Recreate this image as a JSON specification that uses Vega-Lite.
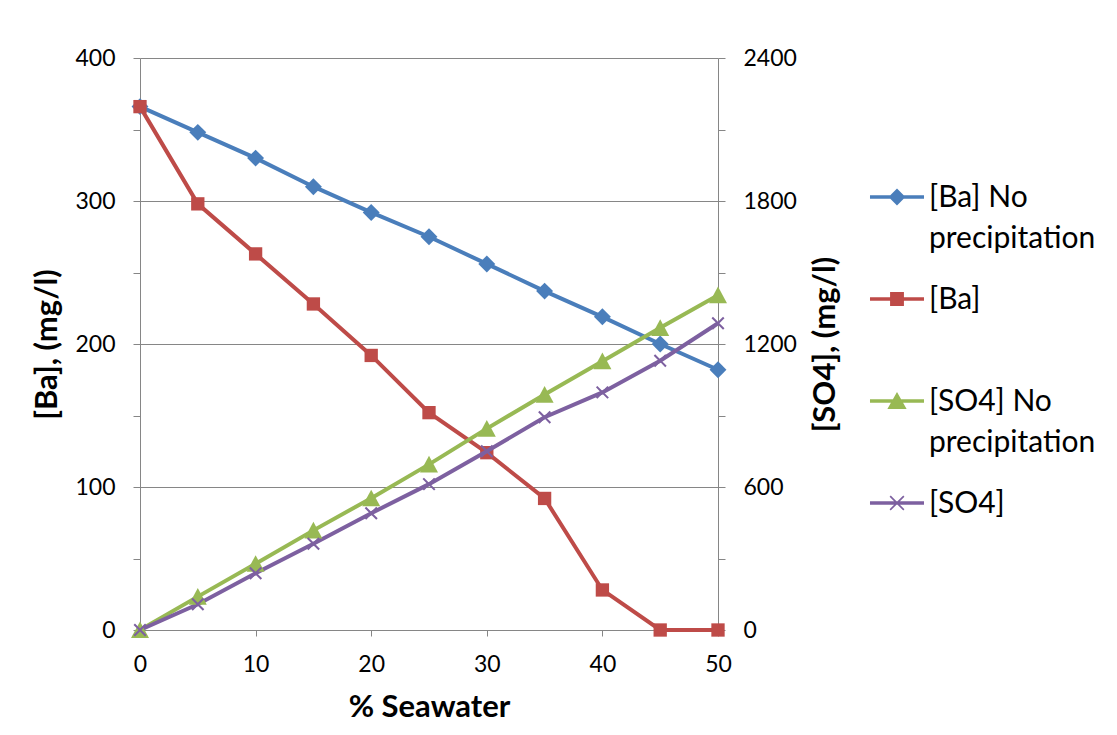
{
  "$schema": "https://vega.github.io/schema/vega-lite/v6.json",
  "autosize": {"type": "none"},
  "width": 578,
  "height": 572,
  "padding": {"left": 140, "top": 58, "right": 399, "bottom": 105},
  "background": "white",
  "config": {
    "font": "Lato",
    "view": {"stroke": null},
    "axis": {
      "labelFont": "Lato",
      "labelFontSize": 23,
      "labelColor": "#000000",
      "labelFlush": false,
      "titleFont": "Lato",
      "titleFontSize": 31,
      "titleFontWeight": "bold",
      "titleColor": "#000000",
      "domainColor": "#868686",
      "tickColor": "#868686",
      "gridColor": "#868686",
      "domainWidth": 1,
      "tickWidth": 1,
      "gridWidth": 1,
      "tickSize": 7
    }
  },
  "data": {
    "values": [
      {"x": 0, "series": "[Ba] No precipitation", "value": 366},
      {"x": 5, "series": "[Ba] No precipitation", "value": 348},
      {"x": 10, "series": "[Ba] No precipitation", "value": 330},
      {"x": 15, "series": "[Ba] No precipitation", "value": 310},
      {"x": 20, "series": "[Ba] No precipitation", "value": 292},
      {"x": 25, "series": "[Ba] No precipitation", "value": 275},
      {"x": 30, "series": "[Ba] No precipitation", "value": 256},
      {"x": 35, "series": "[Ba] No precipitation", "value": 237},
      {"x": 40, "series": "[Ba] No precipitation", "value": 219},
      {"x": 45, "series": "[Ba] No precipitation", "value": 200},
      {"x": 50, "series": "[Ba] No precipitation", "value": 182},
      {"x": 0, "series": "[Ba]", "value": 366},
      {"x": 5, "series": "[Ba]", "value": 298},
      {"x": 10, "series": "[Ba]", "value": 263},
      {"x": 15, "series": "[Ba]", "value": 228},
      {"x": 20, "series": "[Ba]", "value": 192},
      {"x": 25, "series": "[Ba]", "value": 152},
      {"x": 30, "series": "[Ba]", "value": 124},
      {"x": 35, "series": "[Ba]", "value": 92},
      {"x": 40, "series": "[Ba]", "value": 28},
      {"x": 45, "series": "[Ba]", "value": 0},
      {"x": 50, "series": "[Ba]", "value": 0},
      {"x": 0, "series": "[SO4] No precipitation", "value": 0},
      {"x": 5, "series": "[SO4] No precipitation", "value": 140},
      {"x": 10, "series": "[SO4] No precipitation", "value": 278},
      {"x": 15, "series": "[SO4] No precipitation", "value": 418},
      {"x": 20, "series": "[SO4] No precipitation", "value": 553},
      {"x": 25, "series": "[SO4] No precipitation", "value": 695},
      {"x": 30, "series": "[SO4] No precipitation", "value": 845},
      {"x": 35, "series": "[SO4] No precipitation", "value": 988},
      {"x": 40, "series": "[SO4] No precipitation", "value": 1128},
      {"x": 45, "series": "[SO4] No precipitation", "value": 1268},
      {"x": 50, "series": "[SO4] No precipitation", "value": 1405},
      {"x": 0, "series": "[SO4]", "value": 0},
      {"x": 5, "series": "[SO4]", "value": 108},
      {"x": 10, "series": "[SO4]", "value": 238},
      {"x": 15, "series": "[SO4]", "value": 362},
      {"x": 20, "series": "[SO4]", "value": 490},
      {"x": 25, "series": "[SO4]", "value": 612},
      {"x": 30, "series": "[SO4]", "value": 750},
      {"x": 35, "series": "[SO4]", "value": 893},
      {"x": 40, "series": "[SO4]", "value": 997},
      {"x": 45, "series": "[SO4]", "value": 1130},
      {"x": 50, "series": "[SO4]", "value": 1287}
    ]
  },
  "encoding": {
    "x": {
      "field": "x",
      "type": "quantitative",
      "scale": {"domain": [0, 50], "nice": false, "zero": false},
      "axis": {
        "title": "% Seawater",
        "values": [0, 10, 20, 30, 40, 50],
        "grid": false,
        "tickSize": 6,
        "labelPadding": 17,
        "titlePadding": 16
      }
    },
    "color": {
      "field": "series",
      "type": "nominal",
      "scale": {
        "domain": ["[Ba] No precipitation", "[Ba]", "[SO4] No precipitation", "[SO4]"],
        "range": ["#4A7EBB", "#BE4B48", "#98B954", "#7D60A0"]
      },
      "legend": {
        "orient": "none",
        "legendX": 740,
        "legendY": 122,
        "title": null,
        "padding": 0,
        "labelFont": "Lato",
        "labelFontSize": 30,
        "labelColor": "#000000",
        "labelLimit": 400,
        "labelOffset": 15,
        "labelBaseline": "alphabetic",
        "symbolSize": 1140,
        "rowPadding": 28,
        "labelExpr": "datum.label === '[Ba] No precipitation' ? ['[Ba] No', 'precipitation'] : datum.label === '[SO4] No precipitation' ? ['[SO4] No', 'precipitation'] : [datum.label, ' ']",
        "encoding": {
          "labels": {
            "dy": {"value": 10},
            "lineHeight": {"value": 41}
          },
          "symbols": {
            "shape": {"value": {"expr": "datum.value === '[Ba] No precipitation' ? 'M-1.6,-0.11H1.6V0.11H-1.6ZM0,-0.5L0.5,0L0,0.5L-0.5,0Z' : datum.value === '[Ba]' ? 'M-1.6,-0.11H1.6V0.11H-1.6ZM-0.41,-0.41H0.41V0.41H-0.41Z' : datum.value === '[SO4] No precipitation' ? 'M-1.6,-0.11H1.6V0.11H-1.6ZM0,-0.53L0.57,0.47H-0.57Z' : 'M-1.6,-0.11H1.6V0.11H-1.6ZM-0.44,-0.37L-0.37,-0.44L0,-0.07L0.37,-0.44L0.44,-0.37L0.07,0L0.44,0.37L0.37,0.44L0,0.07L-0.37,0.44L-0.44,0.37L-0.07,0Z'"}},
            "size": {"value": 1140},
            "fill": {"value": {"expr": "scale('color', datum.value)"}},
            "fillOpacity": {"value": 1},
            "opacity": {"value": 1},
            "strokeWidth": {"value": 0}
          }
        }
      }
    }
  },
  "layer": [
    {
      "transform": [{"filter": {"field": "series", "oneOf": ["[Ba] No precipitation", "[Ba]"]}}],
      "encoding": {
        "y": {
          "field": "value",
          "type": "quantitative",
          "scale": {"domain": [0, 400], "nice": false},
          "axis": {
            "orient": "left",
            "title": "[Ba], (mg/l)",
            "values": [0, 50, 100, 150, 200, 250, 300, 350, 400],
            "labelExpr": "datum.value % 100 === 0 ? datum.label : ''",
            "grid": true,
            "gridOpacity": {"condition": {"test": "datum.value % 100 !== 0", "value": 0}, "value": 1},
            "labelPadding": 18,
            "titlePadding": 11
          }
        }
      },
      "layer": [
        {"mark": {"type": "line", "strokeWidth": 4}},
        {
          "transform": [{"filter": {"field": "series", "equal": "[Ba] No precipitation"}}],
          "mark": {"type": "point", "filled": true, "opacity": 1, "size": 324, "shape": "M0,-0.94L0.94,0L0,0.94L-0.94,0Z"}
        },
        {
          "transform": [{"filter": {"field": "series", "equal": "[Ba]"}}],
          "mark": {"type": "point", "filled": true, "opacity": 1, "size": 324, "shape": "M-0.74,-0.74H0.74V0.74H-0.74Z"}
        }
      ]
    },
    {
      "transform": [{"filter": {"field": "series", "oneOf": ["[SO4] No precipitation", "[SO4]"]}}],
      "encoding": {
        "y": {
          "field": "value",
          "type": "quantitative",
          "scale": {"domain": [0, 2400], "nice": false},
          "axis": {
            "orient": "right",
            "title": "[SO4], (mg/l)",
            "titleAngle": 270,
            "titleBaseline": "top",
            "values": [0, 300, 600, 900, 1200, 1500, 1800, 2100, 2400],
            "labelExpr": "datum.value % 600 === 0 ? datum.label : ''",
            "format": "d",
            "grid": false,
            "labelPadding": 18,
            "titlePadding": 14
          }
        }
      },
      "layer": [
        {"mark": {"type": "line", "strokeWidth": 4}},
        {
          "transform": [{"filter": {"field": "series", "equal": "[SO4] No precipitation"}}],
          "mark": {"type": "point", "filled": true, "opacity": 1, "size": 324, "shape": "M0,-0.95L1,0.9H-1Z"}
        },
        {
          "transform": [{"filter": {"field": "series", "equal": "[SO4]"}}],
          "mark": {"type": "point", "filled": true, "opacity": 1, "size": 324, "shape": "M-0.72,-0.56L-0.56,-0.72L0,-0.16L0.56,-0.72L0.72,-0.56L0.16,0L0.72,0.56L0.56,0.72L0,0.16L-0.56,0.72L-0.72,0.56L-0.16,0Z"}
        }
      ]
    }
  ],
  "resolve": {"scale": {"y": "independent"}}
}
